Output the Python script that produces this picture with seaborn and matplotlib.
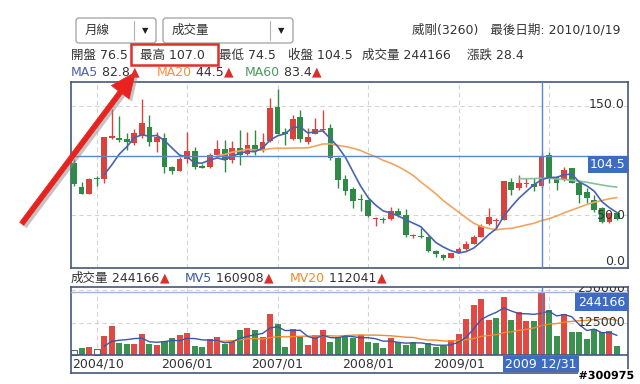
import numpy as np
import pandas as pd
import seaborn as sns
import matplotlib.pyplot as plt
import matplotlib.patheffects as pe
from matplotlib.patches import Rectangle, FancyArrowPatch, FancyBboxPatch
from matplotlib.transforms import Affine2D

sns.set_style('white')
plt.rcParams['font.family'] = ['DejaVu Sans', 'Noto Sans CJK TC']

# monthly candles, 2004/10 .. 2010/10
opens = [98, 76, 69.3, 84.2, 82.7, 120.4, 120.4, 120, 115.8, 123.4,
         131, 117, 121, 94.3, 90.4, 101.4, 109, 95, 93.7, 105,
         110.5, 100.5, 111.7, 106, 114.2, 109.6, 118.2, 148.8, 125.9, 119.4,
         140.2, 116.7, 124.3, 128, 130, 102.6, 82.7, 73.6, 64.3, 63.8,
         46.5, 46.3, 46, 53.9, 50, 30.8, 30, 30, 17.2, 13.3,
         10.8, 15.4, 18.5, 23.4, 30, 41.7, 44.5, 45.4, 80.6, 74.5,
         78.5, 78, 76.5, 105, 84.6, 82.7, 92.8, 79, 71.4, 63.8,
         56.1, 43.9, 51.6]
highs = [101, 80, 84, 86, 122, 147, 140.8, 125, 128.6, 156.4,
         141.7, 126.4, 125, 94.5, 103, 126.4, 112.7, 97, 106.6, 118.8,
         118.8, 117.9, 128, 126.4, 128, 125, 157, 165.3, 129.5, 141.7,
         146.3, 129.5, 138.7, 146.3, 133.5, 103, 86.7, 76, 69.3, 64.5,
         48.5, 48.3, 57, 56.7, 55.2, 32.5, 37.8, 30.5, 17.5, 13.8,
         15.5, 21, 26.4, 31.5, 41.7, 56.1, 47, 81.5, 83.7, 86.7,
         84, 84, 107, 108, 85.5, 94, 93.5, 80, 74.5, 68.3,
         57, 52, 52.5]
lows = [77, 69, 69, 76.6, 79, 120, 117.3, 110, 114, 121,
        113, 108, 88.8, 87.3, 90, 98, 92, 93, 93, 103,
        89.7, 98, 95.9, 105, 105, 108, 117, 124, 114, 119,
        117, 115, 124, 126, 100.5, 74.5, 68.3, 56, 54, 48,
        40, 42.4, 45, 48.4, 30, 29, 29, 16.3, 11.7, 8.7,
        10.5, 15, 18, 23, 29.5, 41, 38, 45, 68.3, 73,
        76, 72, 74.5, 79, 73, 81, 79, 60.7, 61, 53,
        43, 42.4, 45]
closes = [78.4, 69.3, 83, 83, 121.8, 122.5, 118.8, 117, 125, 134,
          117.2, 121.8, 93.7, 90.6, 101.4, 109, 93.7, 93.4, 105, 110.5,
          100.5, 111.7, 105, 114.2, 109, 117.2, 148.4, 124.3, 124, 137.8,
          119.4, 121.3, 128.6, 129, 102, 82.1, 72.3, 62.8, 63.8, 49.1,
          47.5, 45.4, 53.9, 50, 31.7, 31.2, 29.5, 17, 14.2, 10.8,
          14.8, 18.8, 23.8, 30, 40, 47.9, 45.5, 81.5, 72.9, 79,
          79.5, 76.1, 104.5, 83, 79.6, 91.3, 79.6, 68.3, 65.3, 54.6,
          43.9, 51.6, 46]
volumes = [19100, 25800, 29600, 21900, 73100, 111600, 47300, 42000, 42000, 80800,
           42000, 38400, 55000, 63900, 76900, 85900, 34600, 29600, 60100, 67700,
           42000, 51300, 96200, 102600, 96200, 67700, 157400, 119300, 29600, 98700,
           70600, 38400, 76900, 96200, 51300, 67700, 73100, 63900, 76900, 51300,
           47300, 26700, 65800, 51300, 37200, 51300, 26700, 44800, 29600, 34600,
           57700, 80800, 138300, 192300, 214200, 134500, 141200, 221800, 134500, 164100,
           130700, 130700, 244166, 172700, 73100, 157400, 89700, 89700, 61500, 98700,
           89700, 93500, 34600]
date_pos = [0, 15, 27, 39, 51]
date_labels = ['2004/10', '2006/01', '2007/01', '2008/01', '2009/01']
jan_pos = [3, 15, 27, 39, 51, 63]
sel = 62  # 2009/12

RED, GREEN = '#d8433e', '#2f8a47'
C_MA5, C_MA20, C_MA60 = '#4a62b0', '#f0a560', '#86c295'
TXT = '#333333'
GRID = '#d4d4d4'
XHAIR = '#5b85c8'
BORDER = '#46587a'

df = pd.DataFrame({'x': np.arange(len(closes)), 'open': opens, 'high': highs,
                   'low': lows, 'close': closes, 'vol': volumes})
df['ma5'] = df['close'].rolling(5).mean()
df['ma20'] = df['close'].rolling(20).mean()
df['ma60'] = df['close'].rolling(60).mean()
df['mv5'] = df['vol'].rolling(5).mean()
df['mv20'] = df['vol'].rolling(20).mean()

fig = plt.figure(figsize=(6.4, 3.84), dpi=100)
px = Affine2D().scale(1 / 640, -1 / 384).translate(0, 1) + fig.transFigure
xlim = (-0.4, 73.47)

# ---- price panel
ax = fig.add_axes([71 / 640, 1 - 268 / 384, 557 / 640, 186 / 384])
ax.set_xlim(*xlim)
ax.set_ylim(1.4, 172)
for v in [50, 150]:
    ax.axhline(v, color=GRID, lw=0.8, ls=(0, (4, 3)), zorder=0)
for p in jan_pos:
    ax.axvline(p, color=GRID, lw=0.8, ls=(0, (4, 3)), zorder=0)

for r in df.itertuples():
    col = RED if r.close >= r.open else GREEN
    ax.vlines(r.x, r.low, r.high, color=col, lw=1, zorder=2)
    lo = min(r.open, r.close)
    h = max(abs(r.close - r.open), 0.9)
    ax.add_patch(Rectangle((r.x - 0.38, lo), 0.76, h, color=col, lw=0, zorder=3))

sns.lineplot(data=df, x='x', y='ma60', color=C_MA60, lw=1.2, ax=ax, zorder=4)
sns.lineplot(data=df, x='x', y='ma20', color=C_MA20, lw=1.2, ax=ax, zorder=4)
sns.lineplot(data=df, x='x', y='ma5', color=C_MA5, lw=1.2, ax=ax, zorder=4)
ax.axvline(sel, color=XHAIR, lw=1, zorder=5)
ax.axhline(closes[sel], color=XHAIR, lw=1, zorder=5)

yt = ax.get_yaxis_transform()
for v, s in [(151, '150.0'), (50, '50.0')]:
    ax.text(0.9946, v, s, transform=yt, ha='right', va='center', fontsize=9, color=TXT, zorder=6)
ax.text(0.9946, 1.6, '0.0', transform=yt, ha='right', va='bottom', fontsize=9, color=TXT, zorder=6)

ax.set_xlabel('')
ax.set_ylabel('')
ax.set_xticks([])
ax.set_yticks([])
for s in ax.spines.values():
    s.set_color(BORDER)
    s.set_linewidth(1.2)

# ---- volume panel
axv = fig.add_axes([71 / 640, 1 - 373 / 384, 557 / 640, 86 / 384])
vscale = 250000 / 65.0
axv.set_ylim(-18 * vscale, 68 * vscale)
sns.barplot(data=df, x='x', y='vol', native_scale=True, width=0.8, color=RED,
            errorbar=None, ax=axv, zorder=2)
chg = np.sign(np.diff(np.r_[closes[0], closes]))
for patch in axv.patches:
    i = int(round(patch.get_x() + patch.get_width() / 2))
    patch.set_x(i - 0.4)
    patch.set_width(0.8)
    if chg[i] > 0:
        patch.set_facecolor('#e04a44')
        patch.set_linewidth(0)
    elif chg[i] < 0:
        patch.set_facecolor('#3a9150')
        patch.set_linewidth(0)
    else:
        patch.set_facecolor('white')
        patch.set_edgecolor('#666666')
        patch.set_linewidth(0.8)

sns.lineplot(data=df, x='x', y='mv20', color='#f08a2a', lw=1, ax=axv, zorder=4)
sns.lineplot(data=df, x='x', y='mv5', color='#3d55a8', lw=1, ax=axv, zorder=4)
axv.set_xlim(*xlim)
axv.axhline(125000, color=GRID, lw=0.8, ls=(0, (4, 3)), zorder=0)
axv.axhline(250000, color=GRID, lw=0.8, ls=(0, (4, 3)), zorder=0)
for p in jan_pos:
    axv.plot([p, p], [0, 68 * vscale], color=GRID, lw=0.8, ls=(0, (4, 3)), zorder=0)
axv.plot([sel, sel], [0, 68 * vscale], color=XHAIR, lw=1, zorder=5)
axv.axhline(volumes[sel], color='#9fb4d8', lw=1, zorder=5)
axv.axhline(0, color=BORDER, lw=1.2, zorder=5)

vt = axv.get_yaxis_transform()
axv.text(0.9946, 125000, '125000', transform=vt, ha='right', va='center', fontsize=9, color=TXT, zorder=6)
axv.text(0.9946, 66 * vscale, '250000', transform=vt, ha='right', va='center', fontsize=9,
         color=TXT, zorder=6, clip_on=True)
for p, lab in zip(date_pos, date_labels):
    if p == 0:
        axv.text(-0.2, -9 * vscale, lab, ha='left', va='center', fontsize=9, color=TXT)
    else:
        axv.text(p, -9 * vscale, lab, ha='center', va='center', fontsize=9, color=TXT)
axv.set_xlabel('')
axv.set_ylabel('')
axv.set_xticks([])
axv.set_yticks([])
for s in axv.spines.values():
    s.set_color(BORDER)
    s.set_linewidth(1.2)


# ---- header texts (pixel coords)
def chain(x, y, pieces, size=9):
    r = fig.canvas.get_renderer()
    for s, c in pieces:
        t = fig.text(x, y, s, transform=px, color=c, fontsize=size, va='center', ha='left')
        x += t.get_window_extent(r).width


for x0, x1, div, label in [(76, 156, 134, '月線'), (163, 293, 270, '成交量')]:
    fig.patches.append(FancyBboxPatch((x0, 18), x1 - x0, 25, boxstyle='round,pad=0,rounding_size=3',
                                      transform=px, fc='white', ec='#a0a0a0', lw=0.9))
    fig.add_artist(plt.Line2D([div, div], [21, 40], transform=px, color='#b0b0b0', lw=0.8))
    fig.text(x0 + 9, 30.5, label, transform=px, fontsize=9, color=TXT, va='center')
    fig.text((div + x1) / 2, 31, '▼', transform=px, fontsize=6, color='#222222', va='center', ha='center')

fig.text(621, 30, '威剛(3260)   最後日期: 2010/10/19', transform=px, fontsize=9, color=TXT,
         ha='right', va='center')

for x0, s in [(71, '開盤 76.5'), (140, '最高 107.0'), (219, '最低 74.5'), (288, '收盤 104.5'),
              (362, '成交量 244166'), (467, '漲跌 28.4')]:
    fig.text(x0, 55, s, transform=px, fontsize=9, color=TXT, va='center')

chain(71, 72, [('MA5', C_MA5), (' 82.8', TXT), ('▲', '#d9302c')])
chain(157, 72, [('MA20', '#ee9240'), (' 44.5', TXT), ('▲', '#d9302c')])
chain(245, 72, [('MA60', '#4f9a5f'), (' 83.4', TXT), ('▲', '#d9302c')])

chain(71, 278, [('成交量', TXT), (' 244166', TXT), ('▲', '#d9302c')])
chain(185, 278, [('MV5', '#3d55a8'), (' 160908', TXT), ('▲', '#d9302c')])
chain(290, 278, [('MV20', '#f08a2a'), (' 112041', TXT), ('▲', '#d9302c')])

# highlighted value boxes
BLUE_BOX = '#3d6cc0'
fig.patches.append(Rectangle((588, 156), 40, 17, transform=px, fc=BLUE_BOX, ec='none'))
fig.text(608, 164.5, '104.5', transform=px, fontsize=9, color='white', ha='center', va='center')
fig.patches.append(Rectangle((575, 293), 53, 18, transform=px, fc=BLUE_BOX, ec='none'))
fig.text(601.5, 302.5, '244166', transform=px, fontsize=9, color='white', ha='center', va='center')
fig.patches.append(Rectangle((503, 356), 76, 16, transform=px, fc=BLUE_BOX, ec='none'))
fig.text(541, 364, '2009 12/31', transform=px, fontsize=9, color='white', ha='center', va='center')

# annotation: red box + arrow
fig.patches.append(Rectangle((131, 44), 87, 21, transform=px, fill=False, ec='#e0302a', lw=1.8))
arrow = FancyArrowPatch((20, 226), (137, 70), transform=px, mutation_scale=1,
                        arrowstyle='simple,head_length=18,head_width=16,tail_width=3.6',
                        fc='#e8231f', ec='#e8231f', lw=0.5,
                        path_effects=[pe.SimplePatchShadow(offset=(2, -2), shadow_rgbFace='#888888', alpha=0.5),
                                      pe.Normal()])
fig.patches.append(arrow)

fig.text(634, 376, '#300975', transform=px, fontsize=8, weight='bold', color='black',
         ha='right', va='center', path_effects=[pe.withStroke(linewidth=2.5, foreground='white')])

fig.savefig('out.png', dpi=100)
